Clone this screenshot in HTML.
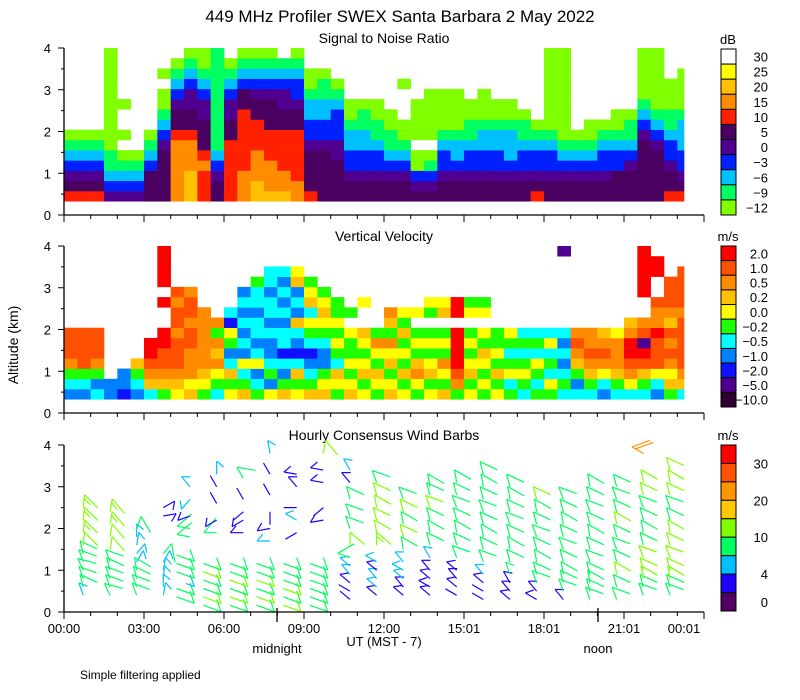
<!DOCTYPE html>
<html><head><meta charset="utf-8"><style>
body{margin:0;background:#fff;}
svg{display:block;font-family:"Liberation Sans",sans-serif;}
</style></head><body>
<svg id="chart" width="800" height="700" viewBox="0 0 800 700" xmlns="http://www.w3.org/2000/svg">
<rect x="0" y="0" width="800" height="700" fill="#fff"/>
<text x="400" y="22" font-size="17" text-anchor="middle">449 MHz Profiler SWEX Santa Barbara  2 May 2022</text>
<text x="384" y="43" font-size="14" text-anchor="middle">Signal to Noise Ratio</text>
<text x="384" y="241" font-size="14" text-anchor="middle">Vertical Velocity</text>
<text x="384" y="440" font-size="14" text-anchor="middle">Hourly Consensus Wind Barbs</text>
<text transform="translate(18,345) rotate(-90)" font-size="14" text-anchor="middle">Altitude (km)</text>
<g id="snr"></g>
<g id="vv"></g>
<g id="barbs"></g>
<g id="axes"></g>
<g id="cbars"></g>
<text x="277" y="653" font-size="13" text-anchor="middle">midnight</text>
<text x="384" y="646" font-size="13" text-anchor="middle">UT  (MST - 7)</text>
<text x="598" y="653" font-size="13" text-anchor="middle">noon</text>
<text x="80" y="679" font-size="12">Simple filtering applied</text>
</svg>
<script>
// ---- SNR data: each string = one 0.5 h column, bottom→top rows (0.33–4 km)
const snrCols = [
"gfedcba........","gfedcba........","gfedcba........","edcbbaaaaaaaaaa","edcba.a..a.....","edcba..........",
"fffdcba........","fffffedcbaa.a..","hhhhhhgffedcba.","iiihhhgffeedcba","ggghgfffeedcbaa","ffedcbbbbbbbbbb",
"ggggggffeedcba.","hhhggggggffdcba","iihhhgggffedcba","ihhhgggfffedcba","ihhggggffeedcb.","hhgggggffeddcba",
"gffffeddccbaa..","fffffeddccbba..","ffffeedddcba...","ffeddccbaa.....","ffeddccbba.....","ffeddcbbaa.....",
"ffedcbbaa......","ffedcbaa...a...","fedaa.aaaa.....","fedba.aaaaa....","ffeddcbaaaa....","ffedccbaaaa....",
"ffeddcbbaa.....","ffeddccbaaa....","ffeddccbaa.....","ffedcccbaa.....","ffeddcbba......","gfeddcba.......",
"ffeddcbaaaaaaaa","ffedcbaaaaaaaaa","ffedcba........","ffedcbaa.......","ffeddcba.......","fffddcbaa......",
"fffedcbba......","ffffffedcbaaaaa","fffffedcbaaaaaa","gffeddcbbaaa...","gfeddcccbaaaa.."];
const snrKeys = "abcdefghij";
const snrColors = ["#80ff00","#00ff60","#00c0ff","#0020ff","#500090","#4a0060","#ff2000","#ff8c00","#ffc000","#ffff00","#ffffff"];
const snrLabels = ["30","25","20","15","10","5","0","\u22123","\u22126","\u22129","\u221212"];

// ---- Vertical velocity data
const vvCols = [
"bcGoOOO........","bcGOOOO........","cbGoOOO........","bb.............","Bbb............","bcGg...........",
"cgoORR.........","GgoOORR..R.RRRR","ygoOOOoOOoO....","gyoooOOoOOo....","Gygoooooo......","cGyogoGo.......",
"yGgcbGyBc......","gGcybcbcbcb....","GcbycbccbccG...","ybGcbbcbccbcc..","gGbcBccbcbcbc..","yGgcBbcgbcbgy..",
"gGcbBcGycgyG...","gyGbbcGygyG....","GygcGyGyGG.....","gyGyGGy.G......","yGgyGyg..y.....","GygGyoG........",
"gyGgyoGgo......","yGgGyGgGy......","GyogGyG.y......","yGgyGyG.Gy.....","gGyoGyG.gy.....","GoORRRR.RR.....",
"yGgyGyG.yG.....","GyGygGy.yG.....","yGgGyGG........","GcyGcGy........","cGyGcGc........","GcGycGc........",
"GycGcyc........","cGcbcbc.......p","cbGgoOo........","cGgoOoo........","bcyoOog........","cGgoooy........",
"cyoORRog.......","cGgORpOo..RRRRR","bcyOOORooO..RR.","GgyoOoOgoOOO...","cgoOOOOOoOOOO.."];
const vvKeys = "ROogyGcbBpk";
const vvColors = ["#ff0000","#ff5000","#ff8c00","#ffc000","#ffff00","#20ff00","#00ffff","#0080ff","#1010ff","#500090","#300030"];
const vvLabels = ["2.0","1.0","0.5","0.2","0.0","\u22120.2","\u22120.5","\u22121.0","\u22122.0","\u22125.0","\u221210.0"];

// ---- Wind barbs (hour, altitude km, direction deg, speed m/s)
const barbHours = [0.5,1.5,2.5,3.5,4.5,5.5,6.5,7.5,8.5,9.5,10.5,11.5,12.5,13.5,14.5,15.5,16.5,17.5,18.5,19.5,20.5,21.5,22.5];
const barbAlts = [
[.4,.6,.8,1.0,1.2,1.4,1.6,1.9,2.2,2.5],[.4,.6,.8,1.0,1.2,1.5,1.8,2.1,2.4],[.4,.6,.8,1.0,1.2,1.4,1.6,1.8,2.0],
[.4,.6,.8,1.0,1.2,1.4,2.3,2.5],[.5,.7,.9,1.1,1.3,1.5,1.8,2.0,2.3,2.7,3.0],[.3,.5,.7,.9,1.1,1.3,1.9,2.2,2.6,3.0,3.3],
[.3,.5,.7,.9,1.1,1.3,1.9,2.2,2.4,2.7,3.2],[.3,.5,.7,.9,1.1,1.3,1.7,2.0,2.4,2.8,3.3,3.8],[.3,.5,.7,.9,1.1,1.3,1.9,2.2,2.5,3.0,3.3],
[.3,.5,.7,.9,1.1,1.3,2.2,2.5,3.1,3.4,3.8],[.3,.5,.7,.9,1.1,1.3,1.6,2.0,2.3,2.7,3.1,3.4],[.4,.6,.8,1.0,1.2,1.6,1.9,2.2,2.5,2.8,3.1],
[.4,.6,.8,1.0,1.2,1.5,1.8,2.1,2.4,2.7],[.4,.6,.8,1.0,1.3,1.6,1.9,2.2,2.5,2.8,3.0],[.4,.6,.8,1.0,1.3,1.6,1.9,2.2,2.5,2.8,3.1],
[.3,.5,.7,.9,1.2,1.5,1.8,2.1,2.4,2.7,3.0,3.3],[.3,.5,.7,.9,1.2,1.5,1.8,2.1,2.4,2.7,3.0],[.3,.5,.7,.9,1.2,1.5,1.8,2.1,2.4,2.7],
[.3,.5,.7,.9,1.2,1.5,1.8,2.1,2.4,2.7],[.3,.5,.7,.9,1.2,1.5,1.8,2.1,2.4,2.7,3.0],[.3,.6,.9,1.2,1.5,1.8,2.1,2.4,2.7,3.0],
[.4,.6,.8,1.0,1.3,1.6,1.9,2.2,2.5,2.8,3.1,3.8],[.4,.6,.8,1.0,1.3,1.6,1.9,2.2,2.5,2.8,3.1,3.4]];
const barbSpds = [
[5,8,9,8,8,8,12,13,13,13],[8,9,9,9,8,12,12,13,13],[8,9,8,8,6,6,5,5,9],
[5,5,5,5,6,9,3,3],[9,9,6,9,9,9,9,9,3,5,5],[9,12,9,9,12,9,9,3,2,2,6],
[9,12,9,12,9,9,3,3,2,2,9],[9,12,9,12,9,9,5,3,2,2,2,5],[12,9,12,9,9,9,2,5,2,3,3],
[9,9,9,9,9,9,3,2,3,3,12],[2,2,3,4,5,9,12,9,9,9,3,5],[3,4,4,3,6,13,12,12,12,12,9],
[3,3,4,5,6,9,12,9,12,9],[3,3,3,3,5,9,9,9,12,9,9],[2,3,3,3,9,9,9,9,9,9,9],
[2,2,3,4,9,9,9,9,9,9,9,9],[3,3,3,7,9,9,9,9,9,9,9],[3,3,9,9,9,9,9,9,9,12],
[3,9,9,9,9,9,9,9,9,9],[8,9,9,9,9,9,9,9,9,9,9],[9,9,12,9,9,9,12,9,9,9],
[9,9,12,12,12,9,9,9,9,12,12,20],[9,9,12,12,12,12,12,9,9,12,12,12]];
const barbDirs = [
[340,345,340,335,340,345,5,5,5,5],[335,340,340,345,340,10,10,10,10],[340,340,345,350,30,40,10,0,20],
[10,0,5,10,30,40,80,60],[160,160,160,160,160,160,280,280,250,220,320],[160,160,160,160,160,160,270,240,330,330,0],
[160,160,160,160,160,160,270,240,230,330,330],[160,160,160,160,160,160,270,260,180,330,330,350],[160,160,160,160,160,160,240,300,270,320,280],
[160,160,160,160,160,160,260,230,280,280,10],[310,300,310,320,310,290,0,340,340,345,320,330],[310,310,320,310,300,0,350,345,350,345,340],
[310,320,310,300,320,350,345,350,345,340],[310,300,310,320,330,345,350,345,340,345,350],[300,310,320,310,340,345,350,345,340,345,350],
[300,300,310,320,340,345,350,345,340,345,350,345],[310,320,330,340,345,350,345,340,345,350,345],[300,320,340,345,350,345,340,345,350,345],
[320,340,345,350,345,340,345,350,345,340],[340,345,350,345,340,345,350,345,340,345,350],[340,345,350,345,340,345,350,345,340,345],
[340,345,350,345,340,345,350,345,340,345,350,300],[340,345,350,345,340,345,350,345,340,345,350,345]];
const windBounds = [2,4,7,10,15,20,25,30];
const windColors = ["#500060","#2000ff","#00c0ff","#00ff60","#80ff00","#ffc800","#ff9600","#ff5000","#ff0000"];
const windLabels = ["30","20","10","4","0"];
const windLabelVals = [30,20,10,4,0];

const xTickLabels = ["00:00","03:00","06:00","09:00","12:00","15:01","18:01","21:01","00:01"];
const xTickLabelHours = [0,3,6,9,12,15,18,21,23.25];
const yTickLabels = ["0","1","2","3","4"];

const NS="http://www.w3.org/2000/svg";
const X0=64, PXH=26.667, DATA_END=23.25, PXKM=41.75;
const panelBottoms=[215,413,612];
function xs(h){return X0+h*PXH;}
function ys(p,km){return panelBottoms[p]-km*PXKM;}
function mk(tag,attrs,parent){const e=document.createElementNS(NS,tag);for(const k in attrs)e.setAttribute(k,attrs[k]);parent.appendChild(e);return e;}

function heat(gid,p,cols,keys,colors,name){
  const g=document.getElementById(gid);
  const nRows=15, bot=0.33, rh=(4-bot)/nRows;
  cols.forEach((col,i)=>{
    const h0=i*0.5, h1=Math.min(h0+0.5,DATA_END);
    for(let r=0;r<nRows;r++){
      const ch=col.charAt(r); const k=keys.indexOf(ch);
      if(k<0) continue;
      const yTop=ys(p,bot+(r+1)*rh), yBot=ys(p,bot+r*rh);
      const el=mk('rect',{x:xs(h0).toFixed(2),y:yTop.toFixed(2),width:(xs(h1)-xs(h0)+0.3).toFixed(2),height:(yBot-yTop+0.3).toFixed(2),fill:colors[k]},g);
      
      
    }
  });
}
heat('snr',0,snrCols,snrKeys,snrColors,'snr-cell');
heat('vv',1,vvCols,vvKeys,vvColors,'velocity-cell');

function windColor(s){let i=0;while(i<windBounds.length&&s>=windBounds[i])i++;return windColors[i];}
const bg=document.getElementById('barbs');
barbHours.forEach((h,i)=>{
  barbAlts[i].forEach((a,j)=>{
    const s=barbSpds[i][j], d=barbDirs[i][j]*Math.PI/180;
    const x=xs(h)+6, y=ys(2,a), L=13;
    const ux=Math.sin(d), uy=-Math.cos(d);
    const tx=x+ux*L, ty=y+uy*L;
    const col=windColor(s);
    const grp=mk('g',{stroke:col,'stroke-width':1.2,fill:'none'},bg);
    
    
    mk('line',{x1:x,y1:y,x2:tx.toFixed(1),y2:ty.toFixed(1)},grp);
    const th=130*Math.PI/180;
    const fx=ux*Math.cos(th)-uy*Math.sin(th), fy=ux*Math.sin(th)+uy*Math.cos(th);
    let rem=s, k=0;
    while(rem>=7.5){const bx=tx-ux*k*4, by=ty-uy*k*4;mk('line',{x1:bx.toFixed(1),y1:by.toFixed(1),x2:(bx+fx*19).toFixed(1),y2:(by+fy*19).toFixed(1)},grp);rem-=10;k++;}
    if(rem>=2.5){const bx=tx-ux*k*4, by=ty-uy*k*4;mk('line',{x1:bx.toFixed(1),y1:by.toFixed(1),x2:(bx+fx*9).toFixed(1),y2:(by+fy*9).toFixed(1)},grp);}
  });
});

// axes
const ax=document.getElementById('axes');
[0,1,2].forEach(p=>{
  const b=panelBottoms[p];
  const l1=mk('line',{x1:X0,y1:ys(p,4),x2:X0,y2:b,stroke:'#000','stroke-width':1.3},ax);
  
  const l2=mk('line',{x1:X0,y1:b,x2:704,y2:b,stroke:'#000','stroke-width':1.3},ax);
  
  for(let k=0;k<=8;k++){mk('line',{x1:X0-(k%2?3:6),y1:ys(p,k/2),x2:X0,y2:ys(p,k/2),stroke:'#000'},ax);}
  yTickLabels.forEach((t,k)=>{const e=mk('text',{x:X0-13,y:ys(p,k)+5,'font-size':13,'text-anchor':'end'},ax);e.textContent=t;
    
    });
  for(let hh=0;hh<=24;hh++){const maj=hh%3===0;mk('line',{x1:xs(hh),y1:b,x2:xs(hh),y2:b+(maj?7:4),stroke:'#000'},ax);}
});
mk('line',{x1:277,y1:608,x2:277,y2:622,stroke:'#000','stroke-width':1.3},ax);
mk('line',{x1:598,y1:608,x2:598,y2:622,stroke:'#000','stroke-width':1.3},ax);
xTickLabels.forEach((t,k)=>{const e=mk('text',{x:xs(xTickLabelHours[k]),y:633,'font-size':13,'text-anchor':'middle'},ax);e.textContent=t;
  
  });

// colorbars
const cb=document.getElementById('cbars');
function cbar(top,bottom,colors,labels,unit,name){
  const n=colors.length, hgt=(bottom-top)/n;
  const u=mk('text',{x:728,y:top-5,'font-size':13,'text-anchor':'middle'},cb);u.textContent=unit;
  
  for(let i=0;i<n;i++){
    const r=mk('rect',{x:721,y:top+i*hgt,width:15,height:hgt,fill:colors[n-1-i],stroke:'#000','stroke-width':1},cb);
    
  }
  labels.forEach((t,i)=>{const e=mk('text',{x:768,y:top+i*hgt+hgt/2+5,'font-size':13,'text-anchor':'end'},cb);e.textContent=t;
    });
}
cbar(49,215,snrColors.slice(),snrLabels,'dB','snr-colorbar');
cbar(246,407,vvColors.slice().reverse(),vvLabels,'m/s','vv-colorbar');
(function(){
  const top=445,bottom=611,n=windColors.length,hgt=(bottom-top)/n;
  const u=mk('text',{x:728,y:top-5,'font-size':13,'text-anchor':'middle'},cb);u.textContent='m/s';
  
  for(let i=0;i<n;i++){const r=mk('rect',{x:721,y:top+i*hgt,width:15,height:hgt,fill:windColors[n-1-i],stroke:'#000'},cb);
    }
  const posOf=v=>{if(v===0)return bottom-hgt/2;let i=windBounds.indexOf(v);return bottom-(i+1)*hgt;};
  windLabels.forEach((t,k)=>{const e=mk('text',{x:768,y:posOf(windLabelVals[k])+5,'font-size':13,'text-anchor':'end'},cb);e.textContent=t;
    });
})();
</script>
</body></html>
